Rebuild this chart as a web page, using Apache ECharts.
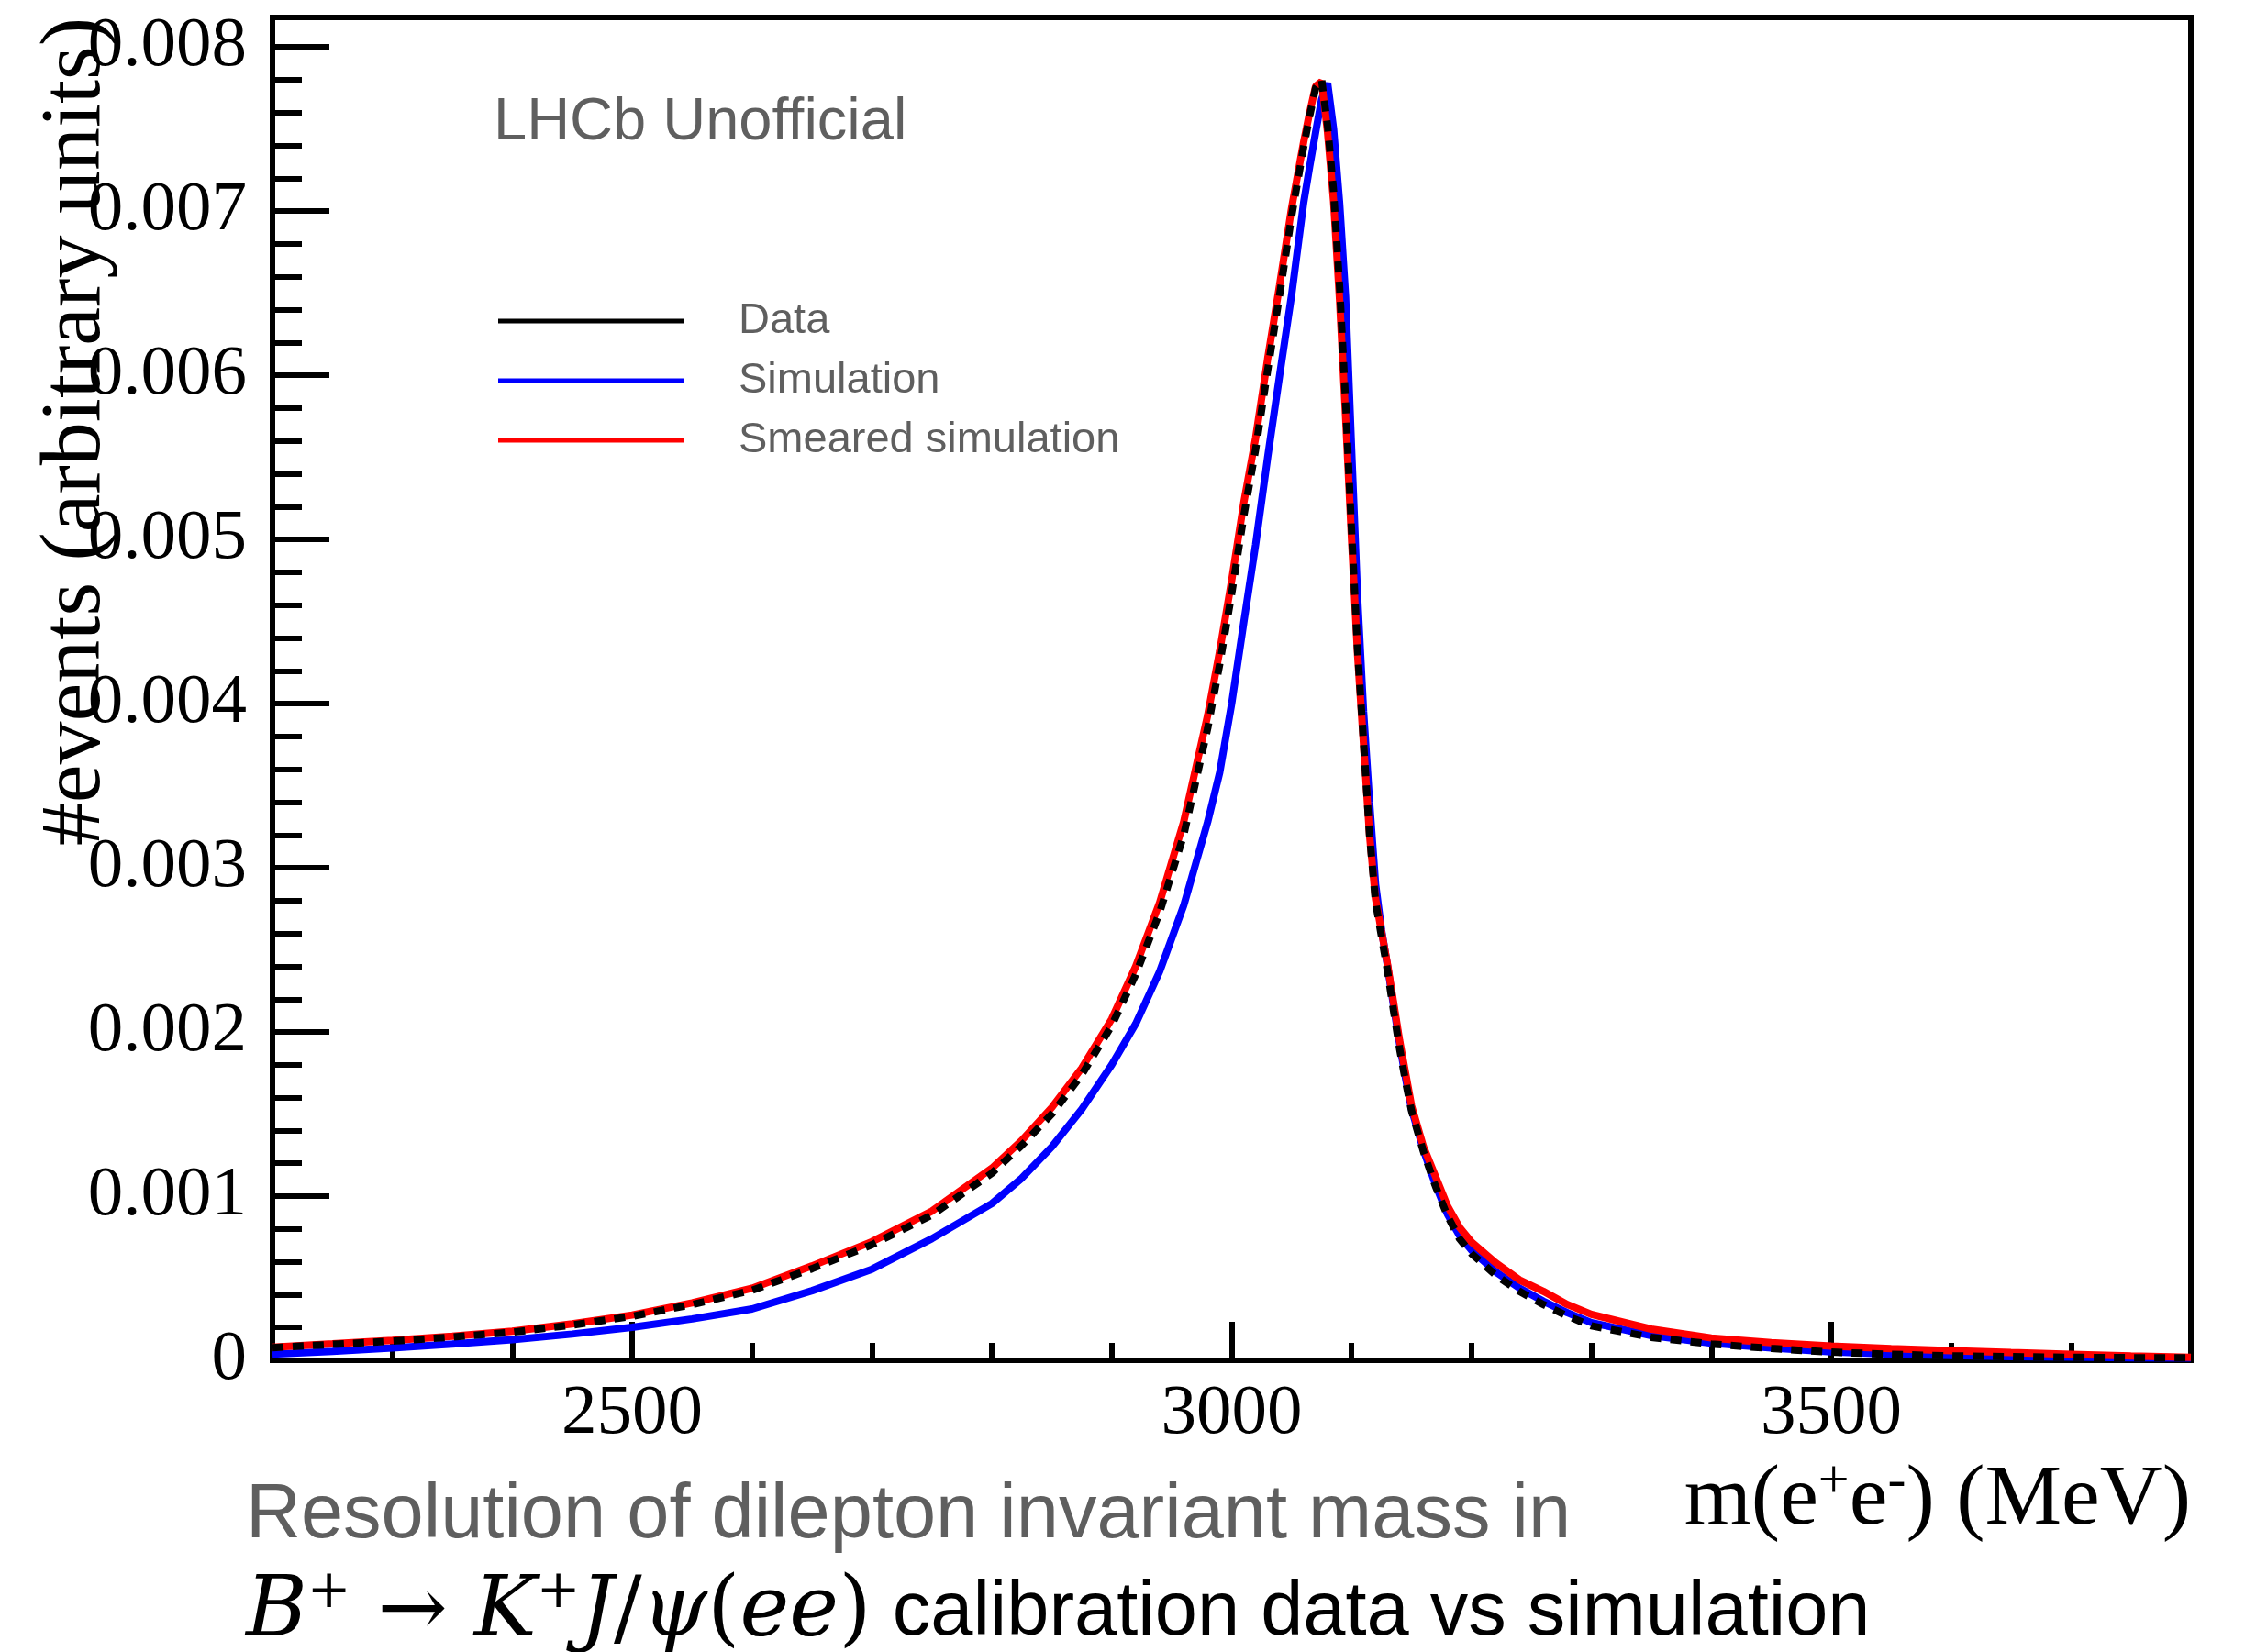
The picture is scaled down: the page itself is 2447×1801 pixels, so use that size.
<!DOCTYPE html>
<html>
<head>
<meta charset="utf-8">
<title>Dilepton invariant mass resolution</title>
<script src="https://cdn.jsdelivr.net/npm/echarts@6/dist/echarts.min.js"></script>
<style>
  html, body { margin: 0; padding: 0; background: #fff; }
  #chart { width: 2447px; height: 1801px; }
</style>
</head>
<body>
<div id="chart"></div>
<script>
// m(e+e-) sampling points (MeV)
const masses = [2200, 2250, 2300, 2350, 2400, 2450, 2500, 2550, 2600, 2650, 2700, 2750, 2800,
  2825, 2850, 2875, 2900, 2920, 2940, 2960, 2980, 2990, 3000, 3010, 3020, 3030, 3040, 3050, 3060,
  3065, 3070, 3075, 3080, 3085, 3090, 3095, 3100, 3105, 3110, 3115, 3120, 3125, 3130, 3135, 3140,
  3145, 3150, 3160, 3170, 3180, 3190, 3200, 3220, 3240, 3260, 3280, 3300, 3350, 3400, 3450, 3500,
  3550, 3600, 3650, 3700, 3750, 3800];

// Calibration data (normalised)
const dataValues = [0.000077, 0.000097, 0.000117, 0.000142, 0.000171, 0.000215, 0.000268, 0.000340, 0.000426, 0.000558, 0.000704, 0.000885, 0.00114,
  0.00131, 0.00150, 0.00174, 0.00204, 0.00235, 0.00273, 0.00320, 0.00385, 0.00424, 0.00467, 0.00514, 0.00555, 0.00603, 0.00649, 0.00697, 0.00739,
  0.00758, 0.00775, 0.00780, 0.00752, 0.00712, 0.00654, 0.00584, 0.00505, 0.00433, 0.00376, 0.00320, 0.00279, 0.00258, 0.00237, 0.00213, 0.00190,
  0.00170, 0.00152, 0.00127, 0.00106, 0.00088, 0.00074, 0.00065, 0.00052, 0.00042, 0.00034, 0.00027, 0.00021, 0.00014, 0.000099, 0.000072, 0.000050,
  0.000036, 0.000027, 0.000022, 0.000018, 0.000016, 0.000015];

// Simulation (normalised)
const simulationValues = [0.000037, 0.000055, 0.000076, 0.000099, 0.000126, 0.000160, 0.000201, 0.000252, 0.000313, 0.000424, 0.000555, 0.000741, 0.000955,
  0.00111, 0.00130, 0.00153, 0.00180, 0.00205, 0.00237, 0.00277, 0.00328, 0.00358, 0.00400, 0.00449, 0.00497, 0.00550, 0.00600, 0.00649, 0.00705,
  0.00727, 0.00748, 0.00768, 0.00778, 0.00750, 0.00705, 0.00648, 0.00555, 0.00465, 0.00395, 0.00340, 0.00290, 0.00262, 0.00240, 0.00216, 0.00193,
  0.00172, 0.00153, 0.00128, 0.00107, 0.00089, 0.00076, 0.00067, 0.00054, 0.00044, 0.00036, 0.00029, 0.00023, 0.00015, 0.000105, 0.000075, 0.000052,
  0.000038, 0.000029, 0.000023, 0.000019, 0.000016, 0.000014];

// Smeared simulation (normalised)
const smearedValues = [0.000080, 0.000100, 0.000121, 0.000147, 0.000177, 0.000222, 0.000276, 0.000350, 0.000439, 0.000575, 0.000723, 0.000909, 0.00117,
  0.00134, 0.00154, 0.00178, 0.00208, 0.00240, 0.00279, 0.00328, 0.00393, 0.00432, 0.00475, 0.00522, 0.00562, 0.00610, 0.00655, 0.00702, 0.00742,
  0.00760, 0.00776, 0.00779, 0.00748, 0.00706, 0.00646, 0.00575, 0.00500, 0.00430, 0.00375, 0.00320, 0.00281, 0.00261, 0.00241, 0.00218, 0.00195,
  0.00175, 0.00155, 0.00130, 0.00112, 0.00094, 0.00081, 0.00072, 0.000595, 0.00049, 0.00042, 0.00034, 0.00028, 0.00019, 0.000136, 0.000108, 0.000086,
  0.000071, 0.000058, 0.000047, 0.000037, 0.000027, 0.000018];

// Axis ticks
const xMajorTicks = [2500, 3000, 3500];
const xMinorTicks = [2300, 2400, 2600, 2700, 2800, 2900, 3100, 3200, 3300, 3400, 3600, 3700];
const yMajorTicks = [0, 0.001, 0.002, 0.003, 0.004, 0.005, 0.006, 0.007, 0.008];
const yMinorTicks = [];
for (let i = 1; i < 40; i++) { if (i % 5 !== 0) yMinorTicks.push(+(i * 0.0002).toFixed(4)); }

const xRange = [2200, 3800];
const yRange = [0, 0.00818];

const seriesNames = ['Data', 'Simulation', 'Smeared simulation'];

const pairs = vals => masses.map((m, i) => [m, vals[i]]);

const serif = 'Liberation Serif';
const mathSerif = 'DejaVu Serif';
const sans = 'Liberation Sans';
const grey = '#5f5f5f';
const W = 6;   // frame and tick width
const LW = 8;  // curve width

const chart = echarts.init(document.getElementById('chart'), null, { renderer: 'canvas' });

chart.setOption({
  animation: false,
  backgroundColor: '#ffffff',
  grid: {
    left: 297, right: 59, top: 19, bottom: 318,
    show: true, borderColor: '#000', borderWidth: W, backgroundColor: 'transparent'
  },
  legend: {
    data: seriesNames,
    orient: 'vertical',
    left: 538, top: 320,
    icon: 'rect',
    itemWidth: 203, itemHeight: 5, itemGap: 15,
    itemStyle: { borderWidth: 0 },
    textStyle: { fontFamily: sans, fontSize: 47, color: grey, lineHeight: 50, padding: [0, 0, 0, 54] }
  },
  xAxis: [
    {
      type: 'value', min: xRange[0], max: xRange[1],
      name: '{t|m(e}{s|+}{t|e}{s|-}{t|) (MeV)}',
      nameLocation: 'end', nameGap: 0,
      nameTextStyle: {
        align: 'right', verticalAlign: 'top', padding: [103, 0, 0, 0],
        rich: {
          t: { fontFamily: serif, fontSize: 94, lineHeight: 100, color: '#000' },
          s: { fontFamily: serif, fontSize: 60, lineHeight: 60, verticalAlign: 'top', color: '#000' }
        }
      },
      axisLine: { show: true, lineStyle: { color: '#000', width: W } },
      axisTick: { show: true, inside: true, length: 42, customValues: xMajorTicks, lineStyle: { color: '#000', width: W } },
      axisLabel: {
        customValues: xMajorTicks, fontFamily: serif, fontSize: 77, color: '#000', margin: 20,
        formatter: v => String(v)
      },
      splitLine: { show: false }
    },
    {
      type: 'value', min: xRange[0], max: xRange[1], position: 'bottom',
      axisLine: { show: false },
      axisTick: { show: true, inside: true, length: 19, customValues: xMinorTicks, lineStyle: { color: '#000', width: W } },
      axisLabel: { show: false },
      splitLine: { show: false }
    }
  ],
  yAxis: [
    {
      type: 'value', min: yRange[0], max: yRange[1],
      axisLine: { show: true, lineStyle: { color: '#000', width: W } },
      axisTick: { show: true, inside: true, length: 62, customValues: yMajorTicks, lineStyle: { color: '#000', width: W } },
      axisLabel: {
        customValues: yMajorTicks, fontFamily: serif, fontSize: 77, color: '#000', margin: 28,
        formatter: v => (v === 0 ? '0' : v.toFixed(3))
      },
      splitLine: { show: false }
    },
    {
      type: 'value', min: yRange[0], max: yRange[1], position: 'left',
      axisLine: { show: false },
      axisTick: { show: true, inside: true, length: 32, customValues: yMinorTicks, lineStyle: { color: '#000', width: W } },
      axisLabel: { show: false },
      splitLine: { show: false }
    }
  ],
  series: [
    {
      name: 'Simulation', type: 'line', data: pairs(simulationValues),
      showSymbol: false, symbol: 'none', z: 2,
      itemStyle: { color: '#0000ff' },
      lineStyle: { color: '#0000ff', width: LW }
    },
    {
      name: 'Smeared simulation', type: 'line', data: pairs(smearedValues),
      showSymbol: false, symbol: 'none', z: 3,
      itemStyle: { color: '#ff0000' },
      lineStyle: { color: '#ff0000', width: LW }
    },
    {
      name: 'Data', type: 'line', data: pairs(dataValues),
      showSymbol: false, symbol: 'none', z: 4,
      itemStyle: { color: '#000000' },
      lineStyle: { color: '#000000', width: LW, type: [12, 10] }
    }
  ],
  graphic: [
    {
      type: 'text', x: 83, y: 19, rotation: Math.PI / 2,
      style: { text: '#events (arbitrary units)', fontFamily: serif, fontSize: 94, fill: '#000', align: 'right', verticalAlign: 'middle' }
    },
    {
      type: 'text', x: 538, y: 134,
      style: { text: 'LHCb Unofficial', fontFamily: sans, fontSize: 65, fill: grey, align: 'left', verticalAlign: 'middle' }
    },
    {
      type: 'text', x: 268, y: 1653,
      style: { text: 'Resolution of dilepton invariant mass in', fontFamily: sans, fontSize: 83, fill: grey, align: 'left', verticalAlign: 'middle' }
    },
    {
      type: 'text', x: 268, y: 1759,
      style: {
        text: '{it|B}{sup|+}{up| → }{it|K}{sup|+}{it|J}{up|/}{it|ψ}{up|(}{it|ee}{up|)}{sn| calibration data vs simulation}',
        align: 'left', verticalAlign: 'middle',
        rich: {
          it: { fontFamily: mathSerif, fontStyle: 'italic', fontSize: 91, lineHeight: 100, color: grey },
          up: { fontFamily: mathSerif, fontSize: 91, lineHeight: 100, color: grey },
          sup: { fontFamily: mathSerif, fontSize: 57, lineHeight: 62, verticalAlign: 'top', color: grey },
          sn: { fontFamily: sans, fontSize: 83, lineHeight: 100, color: grey }
        }
      }
    }
  ]
});
</script>
</body>
</html>
